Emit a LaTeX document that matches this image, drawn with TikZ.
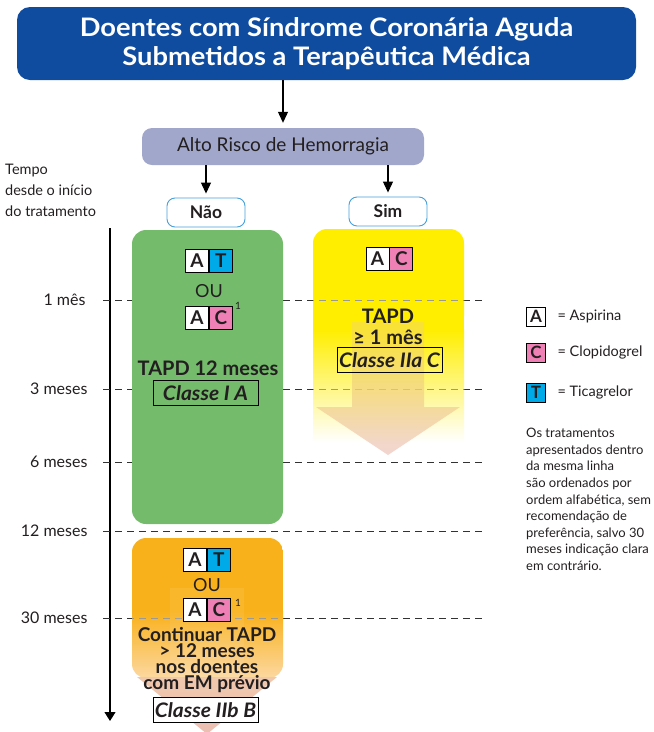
\documentclass[tikz,border=0pt]{standalone}
\usepackage{fontspec}
\setmainfont{Lato}
\usetikzlibrary{arrows.meta,positioning}

\definecolor{titleblue}{RGB}{15,76,160}
\definecolor{lavender}{RGB}{161,167,202}
\definecolor{framblue}{RGB}{70,160,220}
\definecolor{leafgreen}{RGB}{116,187,108}
\definecolor{sunyellow}{RGB}{255,238,0}
\definecolor{amber}{RGB}{249,177,27}
\definecolor{amberpale}{RGB}{252,216,160}
\definecolor{drugcyan}{RGB}{0,169,232}
\definecolor{drugpink}{RGB}{238,128,182}
\definecolor{arrowtop}{RGB}{247,222,74}
\definecolor{arrowtip}{RGB}{236,196,188}
\definecolor{dashgray}{RGB}{50,50,50}
\definecolor{inktext}{RGB}{35,31,32}

\tikzset{
  headtip/.style={-{Triangle[length=11pt,width=10pt]}, line width=1.1pt},
  titlebox/.style={fill=titleblue, rounded corners=13pt, text=white,
    align=center, font=\fontsize{25.5}{29}\selectfont\bfseries\addfontfeature{FakeStretch=1.07}},
  riskbox/.style={fill=lavender, rounded corners=10pt,
    font=\fontsize{19}{21}\selectfont},
  answerbox/.style={draw=framblue, line width=0.9pt, fill=white, rounded corners=8pt,
    minimum width=78pt, minimum height=29pt, font=\fontsize{17.5}{19}\selectfont\bfseries},
  drugbox/.style={draw=black, line width=0.9pt, minimum size=23pt, inner sep=0pt,
    font=\fontsize{19}{19}\selectfont\bfseries},
  legbox/.style={draw=black, line width=0.9pt, minimum size=19pt, inner sep=0pt,
    font=\fontsize{17}{17}\selectfont\bfseries},
  ortext/.style={font=\fontsize{18}{18}\selectfont},
  supnote/.style={font=\fontsize{10}{10}\selectfont, inner sep=0pt},
  bigtext/.style={font=\fontsize{20}{20}\selectfont\bfseries, align=center},
  classbox/.style={draw=black, line width=0.8pt, minimum width=105pt, minimum height=25pt,
    inner sep=0pt, font=\fontsize{20}{20}\selectfont\bfseries\itshape\addfontfeature{FakeStretch=1.05}},
  timelabel/.style={anchor=east, font=\fontsize{16}{18}\selectfont},
  monthline/.style={dashgray, line width=0.9pt, dash pattern=on 7pt off 5pt},
  faintline/.style={black!40, line width=0.9pt, dash pattern=on 7pt off 5pt},
  legtext/.style={anchor=west, font=\fontsize{14.5}{16}\selectfont},
}

\begin{document}
\begin{tikzpicture}[x=1pt, y=-1pt, text=inktext]
\useasboundingbox (0,0) rectangle (654,732);

% ---------- header and decision ----------
\node[titlebox, minimum width=619pt, minimum height=73pt] (title) at (326.5,43.5)
  {Doentes com Síndrome Coronária Aguda\\Submetidos a Terapêutica Médica};
\node[riskbox, minimum width=282pt, minimum height=37pt] (risk) at (283,146.5)
  {Alto Risco de Hemorragia};
\node[answerbox] (nao) at (206,212.5) {Não};
\node[answerbox] (sim) at (388,211.5) {Sim};

\draw[headtip, shorten >=5pt] (title.south -| risk.north) -- (risk.north);
\draw[headtip, shorten >=4pt] (risk.south -| nao.north) -- (nao.north);
\draw[headtip, shorten >=4pt] (risk.south -| sim.north) -- (sim.north);

% ---------- time axis ----------
\node[anchor=north west, align=left, inner sep=0pt,
  font=\fontsize{14.5}{21}\selectfont] (tempo) at (5,164)
  {Tempo\\desde o início\\do tratamento};
\coordinate (axistop) at (110,228);
\coordinate (axisend) at (110,721);
\draw[line width=1.1pt, -{Triangle[length=9pt,width=11pt]}] (axistop) -- (axisend);

\foreach \yy/\lab/\xx in {300/1 mês/89, 389/3 meses/91, 462/6 meses/91, 531/12 meses/91, 618/30 meses/91}{
  \node[timelabel] at (\xx,\yy) {\lab};
  \draw[monthline] (103,\yy) -- (483,\yy);
}

% ---------- "Não" branch: first 12 months ----------
\fill[leafgreen, rounded corners=14pt] (132,230) rectangle (283,524);
\node[drugbox, fill=white] (ga1) at (197,261) {A};
\node[drugbox, fill=drugcyan, right=0pt of ga1] (gt1) {T};
\node[ortext] (gou) at (209,291) {OU};
\node[drugbox, fill=white] (ga2) at (197,317.5) {A};
\node[drugbox, fill=drugpink, right=0pt of ga2] (gc2) {C};
\node[supnote] at (238,306) {1};
\node[bigtext] (gtapd) at (208,368) {TAPD 12 meses};
\node[classbox] (gclass) at (205.5,393) {Classe I A};

% ---------- "Sim" branch ----------
\fill[sunyellow, rounded corners=14pt] (313,229) rectangle (464,330);
\fill[sunyellow] (313,300) rectangle (464,330);
\shade[top color=sunyellow, bottom color=white] (313,329.5) rectangle (464,442);
\begin{scope}
  \clip (313,229) rectangle (464,442);
  \foreach \yy in {300,389}{\draw[faintline] (103,\yy) -- (483,\yy);}
\end{scope}
\shade[top color=arrowtop, bottom color=arrowtip, opacity=0.7]
  (352,322) -- (424,322) -- (424,407) -- (460,407) -- (388,455)
  -- (316,407) -- (352,407) -- cycle;
\node[drugbox, fill=white] (ya) at (377.5,258.5) {A};
\node[drugbox, fill=drugpink, right=0pt of ya] (yc) {C};
\node[bigtext] (ytapd) at (388,316) {TAPD};
\node[bigtext] (ymes) at (388,337) {≥ 1 mês};
\node[classbox] (yclass) at (389.5,360) {Classe IIa C};

% ---------- "Não" branch: beyond 12 months ----------
\begin{scope}
  \clip[rounded corners=14pt] (132,538) rectangle (283,678);
  \fill[amber] (132,538) rectangle (283,612);
  \shade[top color=amber, bottom color=amberpale] (132,611.5) rectangle (283,678);
  \draw[faintline] (103,618) -- (483,618);
\end{scope}
\fill[white, opacity=0.08] (170,588) rectangle (244,677);
\shade[top color={rgb,255:red,240;green,200;blue,172}, bottom color={rgb,255:red,235;green,190;blue,180}]
  (137,677) -- (277,677) -- (207,734) -- cycle;
\node[drugbox, fill=white] (oa1) at (195,560) {A};
\node[drugbox, fill=drugcyan, right=0pt of oa1] (ot1) {T};
\node[ortext] (oou) at (207,585) {OU};
\node[drugbox, fill=white] (oa2) at (195,609.5) {A};
\node[drugbox, fill=drugpink, right=0pt of oa2] (oc2) {C};
\node[supnote] at (238,603) {1};
\node[bigtext, font=\fontsize{19}{16}\selectfont\bfseries] (ocont) at (207,660)
  {Continuar TAPD\\> 12 meses\\nos doentes\\com EM prévio};
\node[classbox, fill=white] (oclass) at (205.5,710) {Classe IIb B};

% ---------- legend ----------
\node[legbox, fill=white] (la) at (536,316.5) {A};
\node[legbox, fill=drugpink] (lc) at (536,352.5) {C};
\node[legbox, fill=drugcyan] (lt) at (536,392.5) {T};
\node[legtext] at (554,316) {= Aspirina};
\node[legtext] at (554,352.5) {= Clopidogrel};
\node[legtext] at (554,392.5) {= Ticagrelor};
\node[anchor=north west, align=left, inner sep=0pt,
  font=\fontsize{13}{16.6}\selectfont] (note) at (526,428)
  {Os tratamentos\\apresentados dentro\\da mesma linha\\são ordenados por\\ordem alfabética, sem\\recomendação de\\preferência, salvo 30\\meses indicação clara\\em contrário.};
\end{tikzpicture}
\end{document}
